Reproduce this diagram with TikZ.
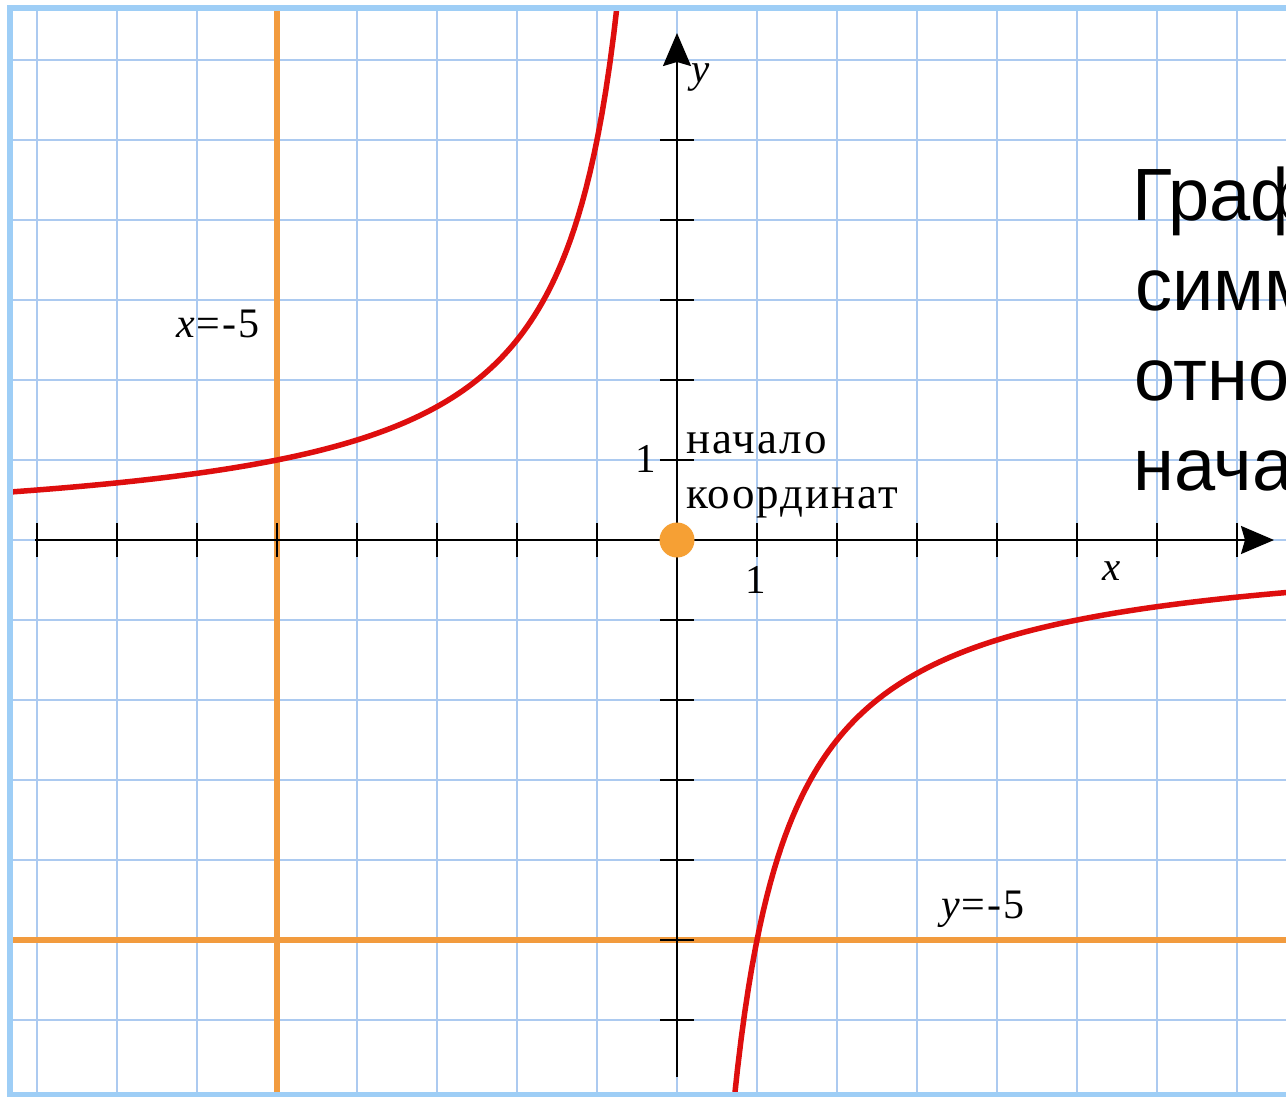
\documentclass[tikz,border=0pt]{standalone}
\usepackage{fontspec}
\setmainfont{Liberation Serif}
\newfontfamily\arialfont{Liberation Sans}
\newfontfamily\spacedserif[LetterSpace=4.5]{Liberation Serif}
\newfontfamily\lblserif[LetterSpace=5]{Liberation Serif}
\usetikzlibrary{arrows.meta}
\definecolor{gridblue}{RGB}{172,202,240}
\definecolor{framebl}{RGB}{158,206,246}
\definecolor{asyorange}{RGB}{242,155,62}
\definecolor{curvered}{RGB}{222,14,14}
\definecolor{dotorange}{RGB}{246,160,52}
\tikzset{
  gridline/.style={draw=gridblue, line width=1.6pt},
  asyline/.style={draw=asyorange, line width=6pt},
  curveline/.style={draw=curvered, line width=5.5pt, line join=round},
  axisline/.style={draw=black, line width=2pt, -{Stealth[length=33pt,width=28pt,inset=4pt]}},
  tickline/.style={draw=black, line width=2pt},
  lbl/.style={inner sep=0pt, font=\lblserif\fontsize{42}{42}\selectfont},
  numlbl/.style={inner sep=0pt, font=\fontsize{41}{41}\selectfont},
  origtext/.style={inner sep=0pt, anchor=base west, font=\spacedserif\fontsize{45}{45}\selectfont},
  bigtext/.style={inner sep=0pt, anchor=base west, font=\arialfont\fontsize{74}{74}\selectfont}
}
\begin{document}
\begin{tikzpicture}[x=1pt,y=-1pt]
\useasboundingbox (0,0) rectangle (1286,1096);
\fill[white] (0,0) rectangle (1286,1096);
\begin{scope}
  \clip (10,8) rectangle (1286,1094);
  % grid
  \foreach \i in {0,...,15} \draw[gridline] ({37+80*\i},8) -- ({37+80*\i},1094);
  \foreach \j in {0,...,12} \draw[gridline] (10,{60+80*\j}) -- (1286,{60+80*\j});
  % asymptotes
  \coordinate (vt) at (277,8);
  \coordinate (vb) at (277,1094);
  \coordinate (hl) at (10,940);
  \coordinate (hr) at (1286,940);
  \draw[asyline] (vt) -- (vb);
  \draw[asyline] (hl) -- (hr);
  % axes
  \coordinate (xs) at (35,540);
  \coordinate (xe) at (1274,540);
  \coordinate (ys) at (677,1077);
  \coordinate (ye) at (677,33);
  \draw[axisline] (xs) -- (xe);
  \draw[axisline] (ys) -- (ye);
  \foreach \i in {0,...,15} {
    \ifnum\i=8\else
      \draw[tickline] ({37+80*\i},523) -- ({37+80*\i},557);
    \fi
  }
  \foreach \j in {1,...,12} {
    \ifnum\j=6\else
      \draw[tickline] (660,{60+80*\j}) -- (694,{60+80*\j});
    \fi
  }
  % curve y = -5/x
  \draw[curveline] plot[domain=-8.6:-0.74, samples=160] ({677+80*\x},{540+400/\x});
  \draw[curveline] plot[domain=0.71:8.0, samples=160] ({677+80*\x},{540+400/\x});
  % origin
  \node[circle, fill=dotorange, minimum size=35pt, inner sep=0pt] (origin) at (677,540) {};
  % side text (cut off by the right edge, as in the reference)
  \node[bigtext] (t1) at (1132,220) {График};
  \node[bigtext] (t2) at (1135,310) {симметричен};
  \node[bigtext] (t3) at (1134,400) {относительно};
  \node[bigtext] (t4) at (1133,490) {начала};
\end{scope}
% labels
\node[numlbl, anchor=base west] (ylab) at (691,82) {\textit{y}};
\node[numlbl, anchor=base west] (xlab) at (1102,580) {\textit{x}};
\node[lbl, anchor=base west] (xas) at (176,337) {\textit{x}=-5};
\node[lbl, anchor=base west] (yas) at (941,918) {\textit{y}=-5};
\node[numlbl, anchor=base] (one1) at (756,593) {1};
\node[numlbl, anchor=base] (one2) at (646,472) {1};
\node[origtext] (n1) at (686,453) {начало};
\node[origtext] (n2) at (686,508) {координат};
% frame
\draw[draw=framebl, line width=6pt] (10,8) -- (1300,8);
\draw[draw=framebl, line width=6pt] (10,5) -- (10,1096);
\draw[draw=framebl, line width=5pt] (7,1094) -- (1300,1094);
\end{tikzpicture}
\end{document}
